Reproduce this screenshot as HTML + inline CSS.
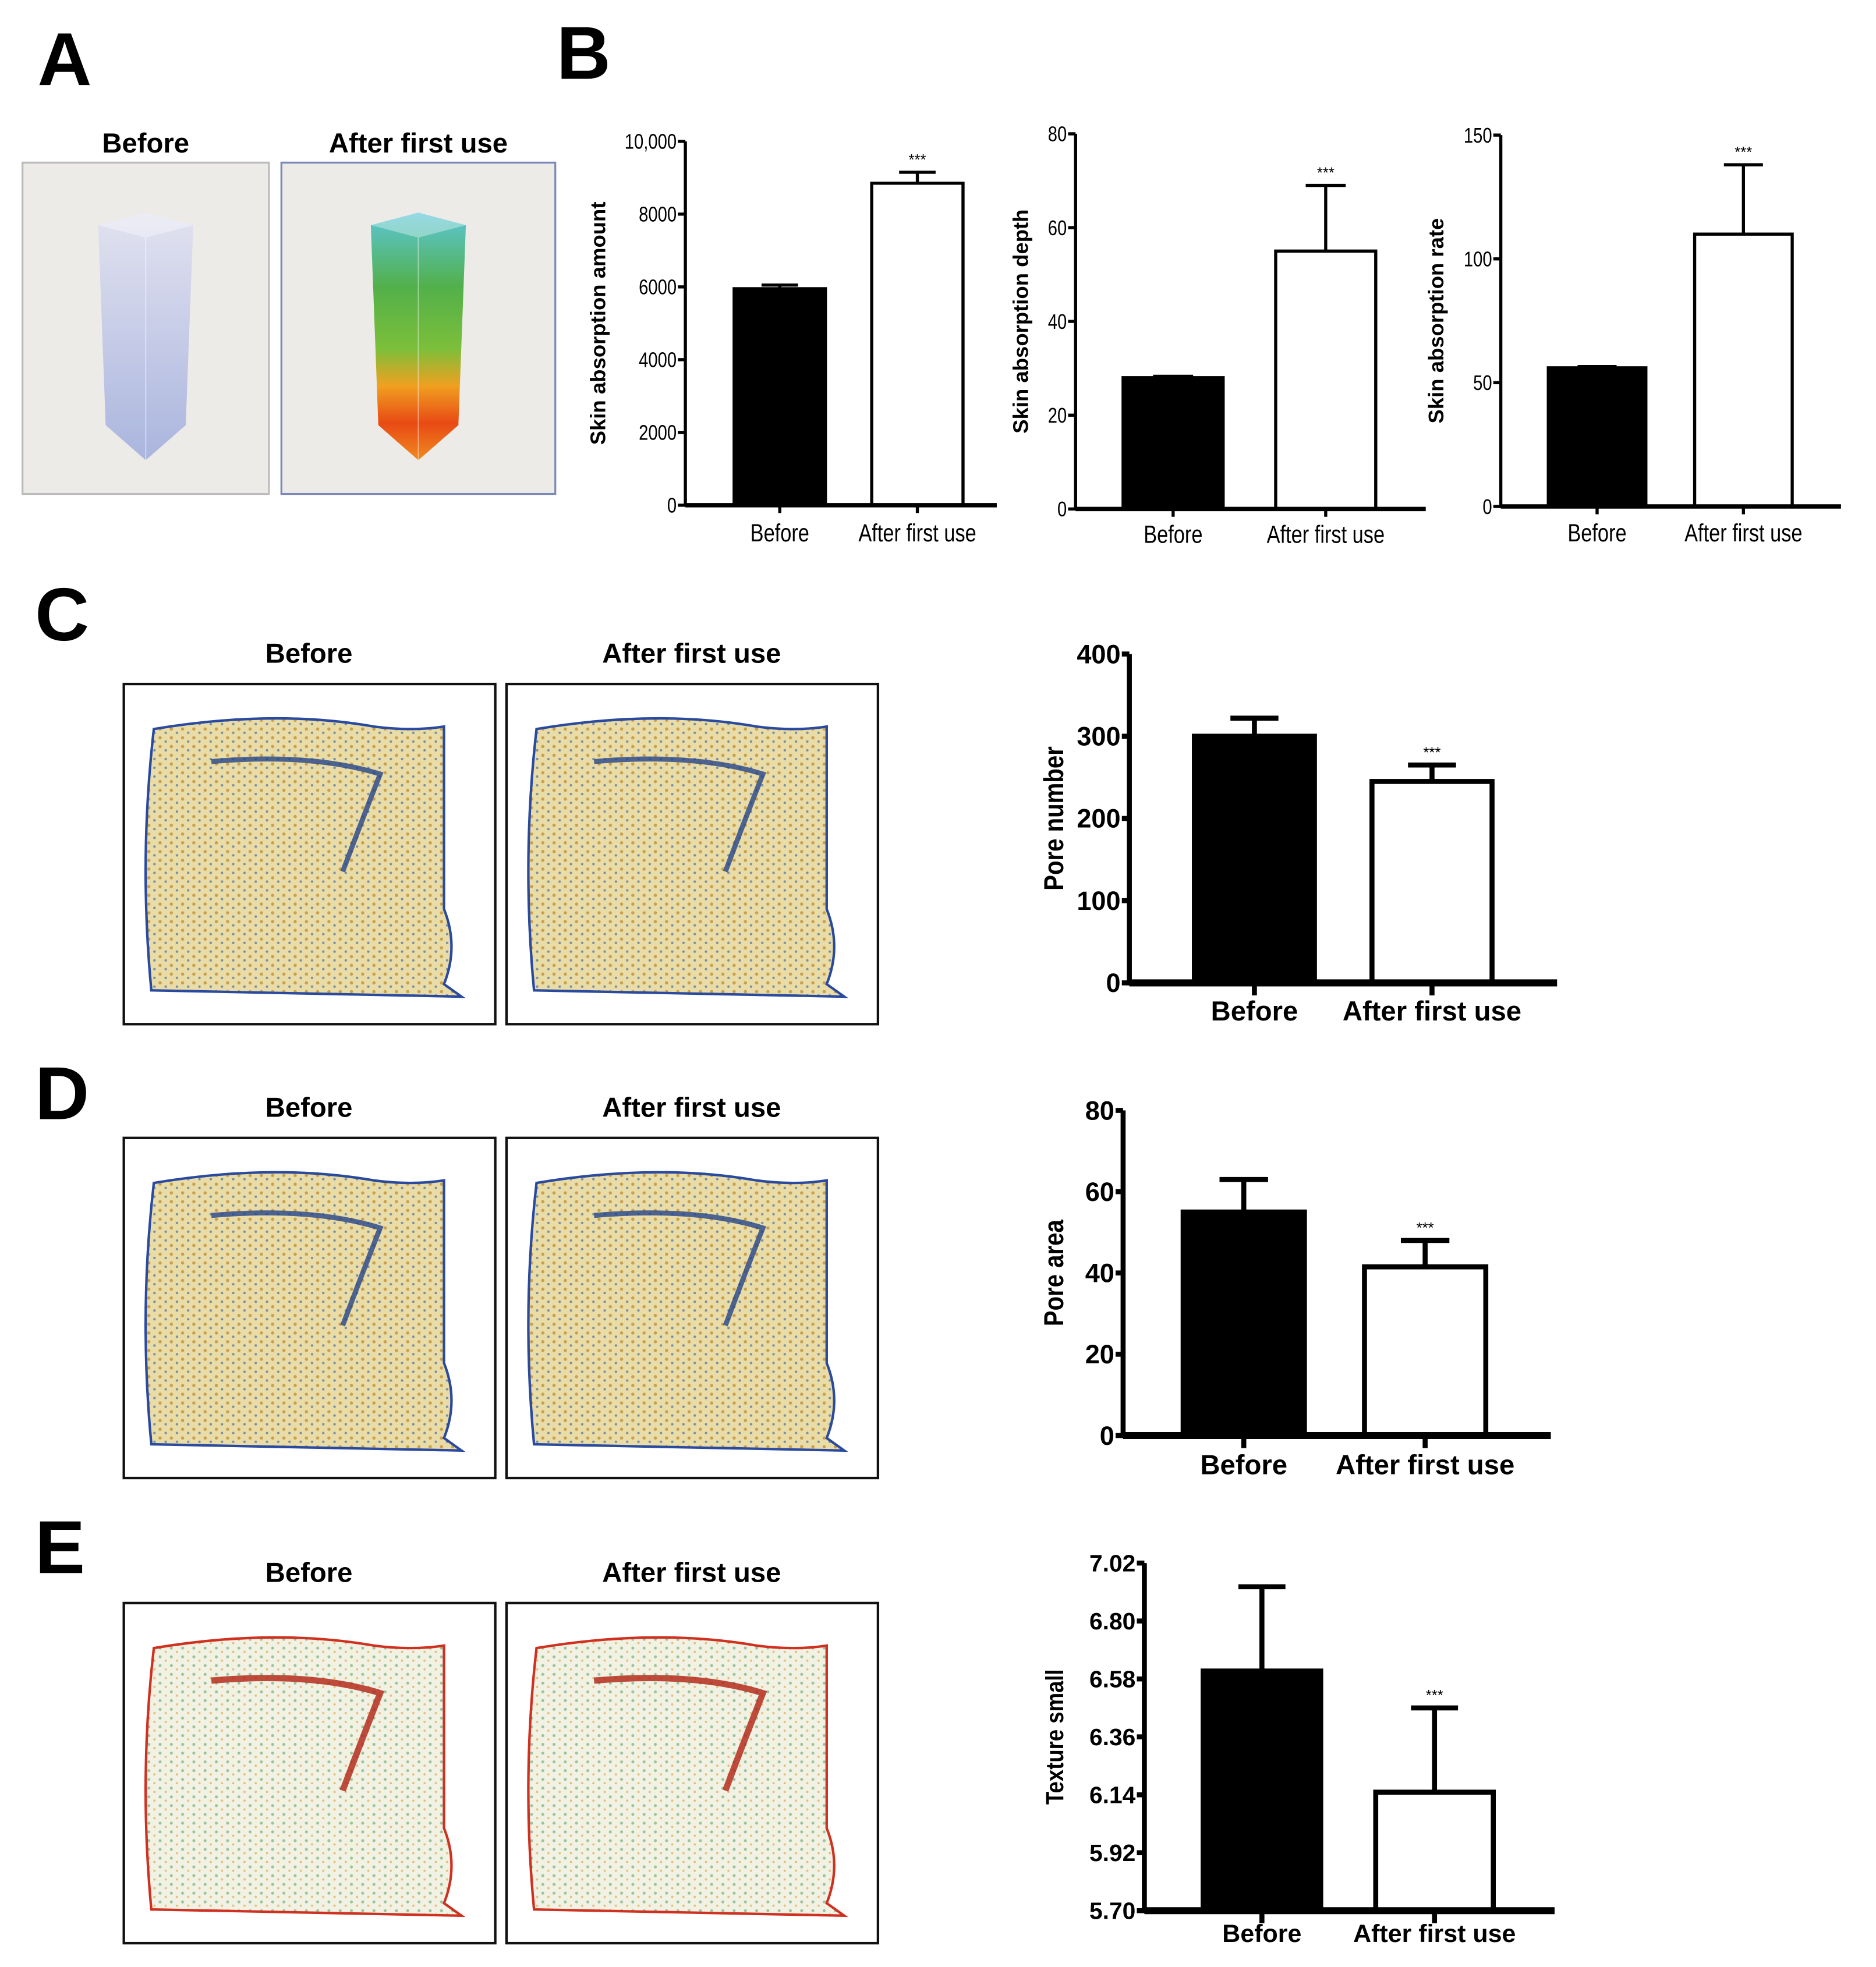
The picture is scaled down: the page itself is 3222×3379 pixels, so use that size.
<!DOCTYPE html>
<html><head><meta charset="utf-8"><style>
html,body{margin:0;padding:0;background:#fff}
svg{display:block}
text{font-family:"Liberation Sans",sans-serif}
</style></head><body>
<svg id="fig" width="3222" height="3379" viewBox="0 0 1500 1573" xmlns="http://www.w3.org/2000/svg">
<defs>
<pattern id="dots" width="9" height="7" patternUnits="userSpaceOnUse">
<rect width="9" height="7" fill="#e9dca6"/><circle cx="2" cy="2" r="1.3" fill="#c8a050"/><circle cx="6.5" cy="5" r="1" fill="#7a8fa0"/>
</pattern>
<pattern id="dotsE" width="9" height="7" patternUnits="userSpaceOnUse">
<rect width="9" height="7" fill="#f1f1e4"/><circle cx="2" cy="2" r="1.2" fill="#9cc49a"/><circle cx="6.5" cy="5" r="0.9" fill="#e1c07a"/>
</pattern>
<linearGradient id="colA" x1="0" y1="0" x2="0" y2="1">
<stop offset="0" stop-color="#5cc6d8"/><stop offset="0.3" stop-color="#52b04a"/><stop offset="0.55" stop-color="#7cbf3a"/><stop offset="0.7" stop-color="#f0a020"/><stop offset="0.85" stop-color="#e84a14"/><stop offset="1" stop-color="#f08a20"/>
</linearGradient>
<linearGradient id="colB" x1="0" y1="0" x2="0" y2="1">
<stop offset="0" stop-color="#dfe0f2"/><stop offset="1" stop-color="#9aa8dc"/>
</linearGradient>
</defs>
<g id="root"></g>
</svg>
<script>
// ---- chart data ----
const b1Categories = ["Before","After first use"];
const b1Values = [5950, 8850];
const b1Errors = [6050, 9150];
const b1Ticks = [0,2000,4000,6000,8000,10000];
const b1TickLabels = ["0","2000","4000","6000","8000","10,000"];

const b2Categories = ["Before","After first use"];
const b2Values = [28, 55];
const b2Errors = [28.3, 69];
const b2Ticks = [0,20,40,60,80];
const b2TickLabels = ["0","20","40","60","80"];

const b3Categories = ["Before","After first use"];
const b3Values = [56, 110];
const b3Errors = [56.5, 138];
const b3Ticks = [0,50,100,150];
const b3TickLabels = ["0","50","100","150"];

const cCategories = ["Before","After first use"];
const cValues = [300, 245];
const cErrors = [322, 265];
const cTicks = [0,100,200,300,400];
const cTickLabels = ["0","100","200","300","400"];

const dCategories = ["Before","After first use"];
const dValues = [55, 41.5];
const dErrors = [63, 48];
const dTicks = [0,20,40,60,80];
const dTickLabels = ["0","20","40","60","80"];

const eCategories = ["Before","After first use"];
const eValues = [6.61, 6.15];
const eErrors = [6.93, 6.47];
const eTicks = [5.70,5.92,6.14,6.36,6.58,6.80,7.02];
const eTickLabels = ["5.70","5.92","6.14","6.36","6.58","6.80","7.02"];

const NS="http://www.w3.org/2000/svg";
const root=document.getElementById('root');
function mk(tag,attrs,parent){const e=document.createElementNS(NS,tag);for(const k in attrs)e.setAttribute(k,attrs[k]);(parent||root).appendChild(e);return e;}
function txt(s,attrs,parent){const e=mk('text',attrs,parent);e.textContent=s;return e;}

// panel letters
[["A",30,68],["B",445,63],["C",28,512],["D",28,895],["E",28,1258]].forEach(p=>{
 const t=txt(p[0],{x:p[1],y:p[2],'font-size':60,'font-weight':'bold'});
 
 
});

// panel A images
function colBox(x,w,title,grad,name){
 const g=mk('g',{});
 
 
 txt(title,{x:x+w/2,y:122,'font-size':22,'font-weight':'bold','text-anchor':'middle'},g);
 mk('rect',{x:x,y:130,width:w,height:265,fill:'#ecebe7',stroke:grad==='colA'?'#7c88b8':'#bbb','stroke-width':1.5},g);
 const cx=x+w/2;
 mk('polygon',{points:`${cx-38},180 ${cx},170 ${cx+38},180 ${cx+32},340 ${cx},368 ${cx-32},340`,fill:`url(#${grad})`,opacity:grad==='colA'?1:0.8},g);
 mk('polygon',{points:`${cx-38},180 ${cx},170 ${cx+38},180 ${cx},190`,fill:'#fff',opacity:0.35},g);
 mk('line',{x1:cx,y1:190,x2:cx,y2:368,stroke:'#fff','stroke-opacity':0.4},g);
}
colBox(18,197,"Before","colB","before-absorption-image");
colBox(225,219,"After first use","colA","after-absorption-image");

// skin images
function skin(x,y,title,fill,name,eStyle){
 const g=mk('g',{});
 
 
 txt(title,{x:x+148,y:y-17,'font-size':22,'font-weight':'bold','text-anchor':'middle'},g);
 mk('rect',{x:x,y:y,width:297,height:272,fill:'#fff',stroke:'#111','stroke-width':2},g);
 const p=`M${x+24},${y+36} Q${x+120},${y+20} ${x+200},${y+34} Q${x+230},${y+38} ${x+256},${y+34} L${x+256},${y+180} Q${x+268},${y+210} ${x+256},${y+240} L${x+270},${y+250} L${x+22},${y+245} Q${x+12},${y+140} ${x+24},${y+36} Z`;
 mk('path',{d:p,fill:`url(#${fill})`,stroke:eStyle?'#d03020':'#2a4aa0','stroke-width':2},g);
 mk('path',{d:`M${x+70},${y+62} Q${x+150},${y+55} ${x+205},${y+72} Q${x+190},${y+110} ${x+175},${y+150}`,fill:'none',stroke:eStyle?'#b02010':'#24448a','stroke-width':eStyle?5:4,opacity:0.8},g);
}
[[547,'C'],[910,'D'],[1282,'E']].forEach(r=>{
 const f=r[1]==='E'?'dotsE':'dots';
 skin(99,r[0],"Before",f,'before-skin-image-'+r[1].toLowerCase(),r[1]==='E');
 skin(405,r[0],"After first use",f,'after-skin-image-'+r[1].toLowerCase(),r[1]==='E');
});

// bar chart
function bars(o){
 const g=mk('g',{});
 
 
 const t0=o.ticks[0],t1=o.ticks[o.ticks.length-1];
 const yS=v=>o.bottom-(v-t0)/(t1-t0)*(o.bottom-o.top);
 const lw=o.lw;
 o.cats.forEach((c,i)=>{
  const bx=o.barX[i],bw=o.barW;
  const cx=bx+bw/2;
  const eb=mk('line',{x1:cx,y1:yS(o.vals[i]),x2:cx,y2:yS(o.errs[i]),stroke:'#000','stroke-width':lw},g);
  
  
  mk('line',{x1:cx-bw*0.2,y1:yS(o.errs[i]),x2:cx+bw*0.2,y2:yS(o.errs[i]),stroke:'#000','stroke-width':lw},g);
  const r=mk('rect',{x:bx,y:yS(o.vals[i]),width:bw,height:o.bottom-yS(o.vals[i]),fill:i===0?'#000':'#fff',stroke:'#000','stroke-width':lw},g);
  
  
  mk('line',{x1:cx,y1:o.bottom,x2:cx,y2:o.bottom+lw*2.5,stroke:'#000','stroke-width':lw},g);
  const l=txt(c,{x:cx,y:o.xlabY,'font-size':o.xfs,'font-weight':o.xbold?'bold':'normal','text-anchor':'middle',transform:o.xcond?`translate(${cx},0) scale(0.8,1) translate(${-cx},0)`:''},g);
  
  
  if(i===1){txt('***',{x:cx,y:yS(o.errs[i])-6,'font-size':12,'text-anchor':'middle'},g);}
 });
 mk('line',{x1:o.axX,y1:o.top,x2:o.axX,y2:o.bottom+lw/2,stroke:'#000','stroke-width':lw},g);
 const xa=mk('line',{x1:o.axX,y1:o.bottom,x2:o.axEnd,y2:o.bottom,stroke:'#000','stroke-width':lw*1.4},g);
 
 
 o.ticks.forEach((t,i)=>{
  const y=yS(t);
  mk('line',{x1:o.axX-6,y1:y,x2:o.axX,y2:y,stroke:'#000','stroke-width':lw},g);
  const tl=txt(o.tickLabels[i],{x:o.axX-7,y:y+o.tfs*0.35,'font-size':o.tfs,'font-weight':o.tbold?'bold':'normal','text-anchor':'end',transform:o.xcond?`translate(${o.axX-7},0) scale(0.8,1) translate(${-(o.axX-7)},0)`:''},g);
  
  
 });
 const midY=(o.top+o.bottom)/2;
 const yl=txt(o.ylabel,{x:0,y:0,'font-size':o.yfs,'font-weight':'bold','text-anchor':'middle',transform:`translate(${o.ylX},${midY}) rotate(-90)${o.ycond?' scale(0.85,1)':''}`},g);
 
 
}
bars({name:'chart-absorption-amount',cats:b1Categories,vals:b1Values,errs:b1Errors,ticks:b1Ticks,tickLabels:b1TickLabels,top:113,bottom:404,axX:548,axEnd:797,barX:[587,697],barW:73,lw:2.5,xlabY:433,xfs:20,xcond:true,tfs:17,ylabel:'Skin absorption amount',ylX:484,yfs:17,xbold:false,tbold:false});
bars({name:'chart-absorption-depth',cats:b2Categories,vals:b2Values,errs:b2Errors,ticks:b2Ticks,tickLabels:b2TickLabels,top:107,bottom:407,axX:860,axEnd:1140,barX:[898,1020],barW:80,lw:2.5,xlabY:434,xfs:20,xcond:true,tfs:17,ylabel:'Skin absorption depth',ylX:822,yfs:17});
bars({name:'chart-absorption-rate',cats:b3Categories,vals:b3Values,errs:b3Errors,ticks:b3Ticks,tickLabels:b3TickLabels,top:108,bottom:405,axX:1200,axEnd:1472,barX:[1238,1355],barW:78,lw:2.5,xlabY:433,xfs:20,xcond:true,tfs:17,ylabel:'Skin absorption rate',ylX:1154,yfs:17});
bars({name:'chart-pore-number',cats:cCategories,vals:cValues,errs:cErrors,ticks:cTicks,tickLabels:cTickLabels,top:523,bottom:786,axX:903,axEnd:1245,barX:[955,1097],barW:96,lw:4,xlabY:816,xfs:22,xbold:true,tfs:21,tbold:true,ylabel:'Pore number',ylX:850,yfs:22,ycond:true});
bars({name:'chart-pore-area',cats:dCategories,vals:dValues,errs:dErrors,ticks:dTicks,tickLabels:dTickLabels,top:888,bottom:1148,axX:898,axEnd:1240,barX:[946,1091],barW:97,lw:4,xlabY:1179,xfs:22,xbold:true,tfs:21,tbold:true,ylabel:'Pore area',ylX:850,yfs:22,ycond:true});
bars({name:'chart-texture-small',cats:eCategories,vals:eValues,errs:eErrors,ticks:eTicks,tickLabels:eTickLabels,top:1250,bottom:1528,axX:915,axEnd:1243,barX:[962,1100],barW:94,lw:4,xlabY:1553,xfs:20,xbold:true,tfs:19,tbold:true,ylabel:'Texture small',ylX:850,yfs:20,ycond:true});
</script>
</body></html>
